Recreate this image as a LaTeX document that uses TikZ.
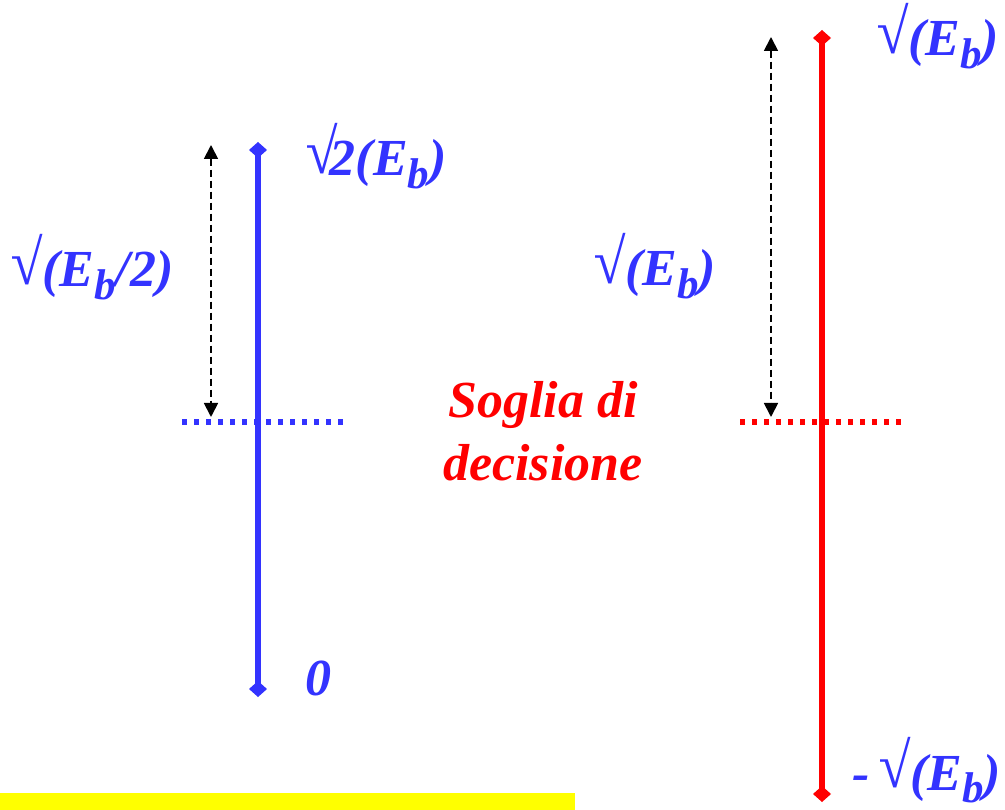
\documentclass[tikz,border=0pt]{standalone}
\usepackage{fontspec}
\setmainfont{Liberation Serif}
\usetikzlibrary{arrows.meta}
\definecolor{lblue}{RGB}{51,51,255}
\definecolor{lred}{RGB}{255,0,0}
\definecolor{lyellow}{RGB}{255,255,0}
\newcommand{\sbb}[1]{\raisebox{-0.24em}{\fontsize{43}{45}\selectfont #1}}
\newcommand{\rad}{\raisebox{0.04em}{\scalebox{1.12}[1.22]{√}}}
\tikzset{
  lbl/.style={font=\fontsize{52}{62}\selectfont\bfseries\itshape, inner sep=0pt, anchor=base west},
  levelline/.style={line width=6.5pt, {Diamond[length=16pt,width=18pt]}-{Diamond[length=16pt,width=18pt]}},
  thresh/.style={line width=6pt, dash pattern=on 5pt off 7pt},
  measure/.style={line width=1.8pt, dash pattern=on 7pt off 4pt, {Triangle[length=14pt,width=14pt]}-{Triangle[length=14pt,width=14pt]}}
}
\begin{document}
\begin{tikzpicture}[x=1pt,y=-1pt]
\useasboundingbox (0,0) rectangle (1005,810);
\fill[lyellow] (0,793) rectangle (575,810);
% left (blue) constellation
\coordinate (bt) at (258,142);
\coordinate (bb) at (258,697);
\coordinate (bl) at (182,422);
\coordinate (br) at (343,422);
\coordinate (at) at (211,145);
\coordinate (ab) at (211,417);
\draw[thresh, lblue] (bl) -- (br);
\draw[levelline, lblue] (bt) -- (bb);
\draw[measure] (at) -- (ab);
% right (red) constellation
\coordinate (rt) at (822,30);
\coordinate (rb) at (822,802);
\coordinate (rl) at (740,422);
\coordinate (rr) at (903,422);
\coordinate (ct) at (771,37);
\coordinate (cb) at (771,417);
\draw[thresh, lred] (rl) -- (rr);
\draw[levelline, lred] (rt) -- (rb);
\draw[measure] (ct) -- (cb);
% labels
\node[lbl, text=lblue] (l1) at (305,176) {\rad\kern-0.14em 2(E\sbb{b})};
\node[lbl, text=lblue] (l2) at (10,287) {\rad(E\sbb{b}/2)};
\node[lbl, text=lblue] (l3) at (593,286) {\rad(E\sbb{b})};
\node[lbl, text=lblue] (l4) at (876,56) {\rad(E\sbb{b})};
\node[lbl, text=lblue] (l5) at (852,790) {-\,\rad(E\sbb{b})};
\node[lbl, text=lblue] (l6) at (305,695) {0};
\node[lbl, text=lred, anchor=base, align=center] (s1) at (543,418) {Soglia di};
\node[lbl, text=lred, anchor=base, align=center] (s2) at (543,480) {decisione};
\end{tikzpicture}
\end{document}
